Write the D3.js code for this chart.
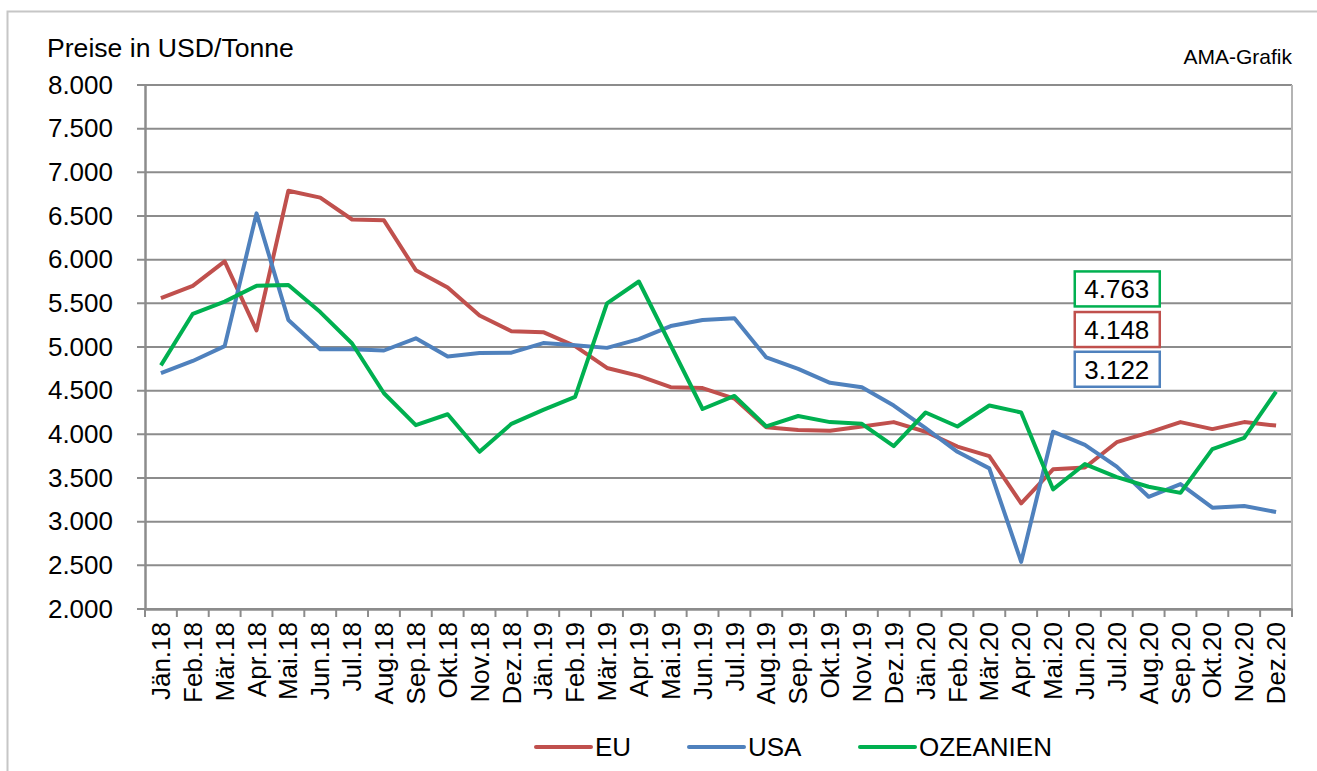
<!DOCTYPE html>
<html>
<head>
<meta charset="utf-8">
<script src="https://cdn.jsdelivr.net/npm/d3@7"></script>
<style>
    body { margin: 0; background: #fff; }
    text { font-family: "Liberation Sans", Arial, sans-serif; fill: #000; }
</style>
</head>
<body>
<svg id="svg"></svg>
<script>
    //months on the x axis
    let months = ['Jän.18', 'Feb.18', 'Mär.18', 'Apr.18', 'Mai.18', 'Jun.18', 'Jul.18', 'Aug.18', 'Sep.18', 'Okt.18', 'Nov.18', 'Dez.18',
        'Jän.19', 'Feb.19', 'Mär.19', 'Apr.19', 'Mai.19', 'Jun.19', 'Jul.19', 'Aug.19', 'Sep.19', 'Okt.19', 'Nov.19', 'Dez.19',
        'Jän.20', 'Feb.20', 'Mär.20', 'Apr.20', 'Mai.20', 'Jun.20', 'Jul.20', 'Aug.20', 'Sep.20', 'Okt.20', 'Nov.20', 'Dez.20']

    //prices in USD/t
    let eu = [5560, 5700, 5980, 5190, 6790, 6710, 6460, 6450, 5880, 5680, 5360, 5180,
        5170, 5010, 4760, 4670, 4540, 4530, 4410, 4080, 4050, 4040, 4090, 4140,
        4030, 3860, 3750, 3210, 3600, 3620, 3910, 4020, 4140, 4060, 4140, 4100]
    let usa = [4700, 4840, 5010, 6530, 5310, 4975, 4975, 4960, 5100, 4890, 4930, 4935,
        5045, 5020, 4990, 5090, 5240, 5310, 5330, 4880, 4750, 4590, 4540, 4330,
        4070, 3800, 3610, 2540, 4030, 3880, 3630, 3285, 3430, 3160, 3180, 3110]
    let oze = [4790, 5380, 5520, 5700, 5710, 5400, 5040, 4470, 4105, 4230, 3800, 4120,
        4280, 4430, 5500, 5750, 5020, 4290, 4440, 4090, 4210, 4140, 4120, 3865,
        4250, 4090, 4330, 4250, 3370, 3660, 3510, 3400, 3330, 3830, 3960, 4490]

    let yTicks = [2000, 2500, 3000, 3500, 4000, 4500, 5000, 5500, 6000, 6500, 7000, 7500, 8000]

    let seriesNames = ['EU', 'USA', 'OZEANIEN']
    let colors = ['#c0504d', '#4f81bd', '#00b050']

    //boxed value labels (top to bottom)
    let boxLabels = ['4.763', '4.148', '3.122']
    let boxColors = ['#00b050', '#c0504d', '#4f81bd']
    let boxValues = [5665, 5200, 4745]

    let W = 1317, H = 771
    let mLeft = 145, mRight = 1292, mTop = 85, mBottom = 609

    let svg = d3.select('#svg').attr('width', W).attr('height', H)
    let fmt = d3.formatLocale({ decimal: ',', thousands: '.', grouping: [3], currency: ['', ''] }).format(',.0f')

    //outer frame
    svg.append('rect')
        .attr('x', 7.5).attr('y', 11.5)
        .attr('width', W).attr('height', H)
        .attr('fill', 'none').attr('stroke', '#c6c6c6').attr('stroke-width', 2)

    let x = d3.scaleBand().domain(months).range([mLeft, mRight])
    let y = d3.scaleLinear().domain([2000, 8000]).range([mBottom, mTop])

    //gridlines
    svg.append('g')
        .selectAll('line')
        .data(yTicks)
        .join('line')
        .attr('x1', mLeft - 8).attr('x2', mRight)
        .attr('y1', d => y(d)).attr('y2', d => y(d))
        .attr('stroke', '#8c8c8c').attr('stroke-width', 2)

    //right border of plot
    svg.append('line')
        .attr('x1', mRight).attr('x2', mRight)
        .attr('y1', mTop).attr('y2', mBottom)
        .attr('stroke', '#b4b4b4').attr('stroke-width', 2)

    //y axis
    let yAxis = d3.axisLeft(y).tickValues(yTicks).tickSize(0).tickPadding(32).tickFormat(fmt)
    let yGroup = svg.append('g')
        .attr('transform', `translate(${mLeft},0)`)
        .call(yAxis)
    yGroup.select('.domain').attr('stroke', '#8c8c8c').attr('stroke-width', 2.5)
    yGroup.selectAll('text').attr('font-size', 26).attr('font-family', '"Liberation Sans", Arial, sans-serif').attr('fill', '#000')

    //x axis
    let xAxis = d3.axisBottom(x).tickSize(0)
    let xGroup = svg.append('g')
        .attr('transform', `translate(0,${mBottom})`)
        .call(xAxis)
    xGroup.select('.domain').attr('stroke', '#8c8c8c').attr('stroke-width', 2.5)
    xGroup.selectAll('text')
        .attr('font-size', 26)
        .attr('font-family', '"Liberation Sans", Arial, sans-serif')
        .attr('fill', '#000')
        .attr('text-anchor', 'end')
        .attr('transform', 'rotate(-90)')
        .attr('x', -13).attr('y', 0).attr('dy', '0.35em')

    //tick marks between categories
    svg.append('g')
        .selectAll('line')
        .data(months.concat(['end']))
        .join('line')
        .attr('x1', (d, i) => i < months.length ? x(d) : mRight)
        .attr('x2', (d, i) => i < months.length ? x(d) : mRight)
        .attr('y1', mBottom).attr('y2', mBottom + 8)
        .attr('stroke', '#8c8c8c').attr('stroke-width', 2)

    //lines
    let line = d3.line()
        .x((d, i) => x(months[i]) + x.bandwidth() / 2)
        .y(d => y(d))
    svg.append('g')
        .selectAll('path')
        .data([eu, usa, oze])
        .join('path')
        .attr('d', d => line(d))
        .attr('fill', 'none')
        .attr('stroke', (d, i) => colors[i])
        .attr('stroke-width', 4)
        .attr('stroke-linejoin', 'round')

    //title + source
    svg.append('text').attr('x', 47).attr('y', 57).attr('font-size', 26.6).text('Preise in USD/Tonne')
    svg.append('text').attr('x', mRight).attr('y', 64).attr('font-size', 21)
        .attr('text-anchor', 'end').text('AMA-Grafik')

    //boxed value labels
    let cx = x('Jul.20') + x.bandwidth() / 2
    let boxes = svg.append('g')
        .selectAll('g')
        .data(boxLabels)
        .join('g')
        .attr('transform', (d, i) => `translate(${cx},${y(boxValues[i])})`)
    boxes.append('rect')
        .attr('x', -42).attr('y', -17.5)
        .attr('width', 85).attr('height', 35)
        .attr('fill', '#fff')
        .attr('stroke', (d, i) => boxColors[i]).attr('stroke-width', 2.5)
    boxes.append('text')
        .attr('text-anchor', 'middle').attr('dy', '0.36em')
        .attr('font-size', 26)
        .text(d => d)

    //legend
    let legX = [536, 689, 860]
    let leg = svg.append('g')
        .selectAll('g')
        .data(seriesNames)
        .join('g')
        .attr('transform', (d, i) => `translate(${legX[i]},747)`)
    leg.append('line')
        .attr('x1', 0).attr('x2', 55)
        .attr('stroke', (d, i) => colors[i]).attr('stroke-width', 4)
        .attr('stroke-linecap', 'round')
    leg.append('text')
        .attr('x', 59).attr('dy', '0.36em')
        .attr('font-size', 26)
        .text(d => d)
</script>
</body>
</html>
